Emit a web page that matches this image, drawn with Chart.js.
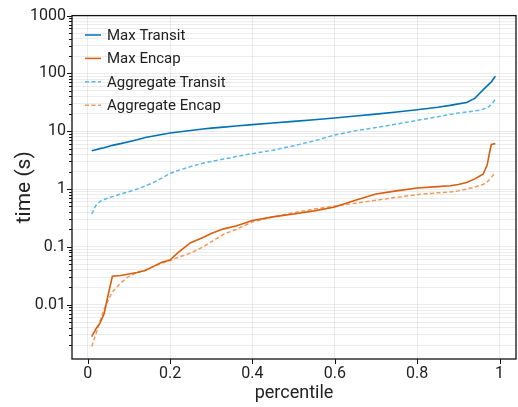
<!DOCTYPE html>
<html>
<head>
<meta charset="utf-8">
<script src="https://cdn.jsdelivr.net/npm/chart.js@4"></script>
<style>
  html, body { margin: 0; padding: 0; background: #fff; }
  canvas { display: block; }
</style>
</head>
<body>
<canvas id="myChart" width="518" height="407"></canvas>
<script>
// percentile values shared by every series
const percentiles = [0.01, 0.02, 0.03, 0.04, 0.05, 0.06, 0.08, 0.1, 0.12, 0.14, 0.16, 0.18, 0.2, 0.22, 0.25, 0.28, 0.3, 0.33, 0.36, 0.4,
    0.45, 0.5, 0.55, 0.6, 0.65, 0.7, 0.75, 0.8, 0.85, 0.88, 0.9, 0.92, 0.94, 0.95, 0.96, 0.97, 0.975, 0.98, 0.985, 0.99];

const maxTransit = [4.6, 4.8, 5.0, 5.2, 5.45, 5.7, 6.1, 6.6, 7.1, 7.8, 8.3, 8.8, 9.3, 9.7, 10.3, 10.9, 11.3, 11.8, 12.3, 13.0,
    13.9, 14.8, 15.8, 16.9, 18.3, 19.8, 21.5, 23.5, 26, 28, 29.7, 31.5, 37, 44, 52, 61, 66, 71, 80, 89];
const maxEncap = [0.0028, 0.0038, 0.0048, 0.007, 0.015, 0.031, 0.032, 0.034, 0.036, 0.039, 0.046, 0.054, 0.059, 0.08, 0.118, 0.145, 0.17, 0.205, 0.23, 0.285,
    0.33, 0.37, 0.42, 0.49, 0.64, 0.82, 0.93, 1.04, 1.1, 1.14, 1.2, 1.3, 1.5, 1.65, 1.8, 2.6, 4.0, 5.9, 6.0, 6.1];
const aggTransit = [0.37, 0.52, 0.61, 0.66, 0.70, 0.74, 0.82, 0.90, 1.0, 1.13, 1.3, 1.55, 1.86, 2.1, 2.45, 2.8, 3.0, 3.3, 3.65, 4.1,
    4.7, 5.6, 6.8, 8.6, 10.2, 11.6, 13.3, 15.4, 17.8, 19.5, 20.6, 21.5, 22.5, 23, 24, 25.8, 27, 29, 32, 36];
const aggEncap = [0.0019, 0.0031, 0.0052, 0.0085, 0.012, 0.0166, 0.0236, 0.031, 0.036, 0.04, 0.046, 0.052, 0.058, 0.066, 0.078, 0.1, 0.122, 0.165, 0.2, 0.27,
    0.33, 0.39, 0.45, 0.51, 0.57, 0.64, 0.72, 0.8, 0.86, 0.89, 0.93, 1.0, 1.08, 1.14, 1.2, 1.33, 1.45, 1.6, 1.75, 1.93];

const seriesNames = ['Max Transit', 'Max Encap', 'Aggregate Transit', 'Aggregate Encap'];
const xTickValues = [0, 0.2, 0.4, 0.6, 0.8, 1];
const xTickLabels = ['0', '0.2', '0.4', '0.6', '0.8', '1'];
const yTickValues = [0.01, 0.1, 1, 10, 100, 1000];
const yTickLabels = ['0.01', '0.1', '1', '10', '100', '1000'];

const FONT = 'Roboto';
const GRID = 'rgba(0,0,0,0.075)';

function points(values) {
    return percentiles.map((p, i) => ({ x: p, y: values[i] }));
}

// minor + major values for the log axis
function logTicks(min, max) {
    const out = [];
    for (let e = -4; e <= 3; e++) {
        for (let m = 1; m <= 9; m++) {
            const v = parseFloat((m * Math.pow(10, e)).toPrecision(6));
            if (v >= min && v <= max) out.push({ value: v, major: m === 1 });
        }
    }
    return out;
}

// frame, tick marks and in-plot legend
const decorations = {
    id: 'decorations',
    afterDraw(chart) {
        const ctx = chart.ctx;
        const a = chart.chartArea;
        const xs = chart.scales.x, ys = chart.scales.y;
        ctx.save();
        ctx.strokeStyle = '#111';
        ctx.lineWidth = 1.3;
        ctx.strokeRect(a.left, a.top, a.right - a.left, a.bottom - a.top);

        ctx.lineWidth = 1;
        ctx.beginPath();
        ys.ticks.forEach(t => {
            const y = Math.round(ys.getPixelForValue(t.value)) + 0.5;
            const len = t.major ? 5 : 3;
            ctx.moveTo(a.left - len, y);
            ctx.lineTo(a.left, y);
        });
        xs.ticks.forEach(t => {
            const x = Math.round(xs.getPixelForValue(t.value)) + 0.5;
            ctx.moveTo(x, a.bottom);
            ctx.lineTo(x, a.bottom + 5);
        });
        ctx.stroke();

        // legend
        ctx.font = '15px ' + FONT;
        ctx.textBaseline = 'middle';
        chart.data.datasets.forEach((ds, i) => {
            const y = 35 + i * 23.4;
            ctx.strokeStyle = ds.borderColor;
            ctx.lineWidth = 1.5;
            ctx.setLineDash(ds.borderDash || []);
            ctx.beginPath();
            ctx.moveTo(85, y);
            ctx.lineTo(101, y);
            ctx.stroke();
            ctx.setLineDash([]);
            ctx.fillStyle = '#222';
            ctx.fillText(ds.label, 107, y + 1);
        });
        ctx.restore();
    }
};

const ctx = document.getElementById('myChart').getContext('2d');
const chart = new Chart(ctx, {
    type: 'line',
    data: {
        datasets: [
            { label: seriesNames[0], data: points(maxTransit), borderColor: '#0072B2', borderWidth: 1.6 },
            { label: seriesNames[1], data: points(maxEncap), borderColor: '#D95F0E', borderWidth: 1.6 },
            { label: seriesNames[2], data: points(aggTransit), borderColor: '#5BB8EE', borderWidth: 1.5, borderDash: [4, 2.5] },
            { label: seriesNames[3], data: points(aggEncap), borderColor: '#F09A5C', borderWidth: 1.5, borderDash: [4, 2.5] }
        ]
    },
    options: {
        responsive: false,
        animation: false,
        devicePixelRatio: 1,
        layout: { padding: { top: 11, right: 2, left: 0, bottom: 0 } },
        elements: { point: { radius: 0 }, line: { tension: 0 } },
        plugins: { legend: { display: false }, tooltip: { enabled: false } },
        scales: {
            x: {
                type: 'linear',
                min: -0.038,
                max: 1.04,
                afterBuildTicks: (scale) => { scale.ticks = xTickValues.map(v => ({ value: v })); },
                afterFit: (scale) => { scale.height = 48; },
                grid: { color: GRID, drawTicks: false },
                border: { display: false },
                ticks: {
                    padding: 5,
                    color: '#222',
                    font: { family: FONT, size: 16 },
                    maxRotation: 0,
                    autoSkip: false,
                    callback: (v) => xTickLabels[xTickValues.indexOf(v)] ?? ''
                },
                title: { display: true, text: 'percentile', color: '#222', font: { family: FONT, size: 18 }, padding: { top: 0, bottom: 3 } }
            },
            y: {
                type: 'logarithmic',
                min: 0.00115,
                max: 1000,
                afterBuildTicks: (scale) => { scale.ticks = logTicks(0.00115, 1000); },
                afterFit: (scale) => { scale.width = 72; },
                grid: { color: GRID, drawTicks: false },
                border: { display: false },
                ticks: {
                    padding: 6,
                    color: '#222',
                    font: { family: FONT, size: 16 },
                    autoSkip: false,
                    callback: (v) => {
                        const i = yTickValues.findIndex(t => Math.abs(t - v) / t < 1e-6);
                        return i >= 0 ? yTickLabels[i] : '';
                    }
                },
                title: { display: true, text: 'time (s)', color: '#222', font: { family: FONT, size: 21 }, padding: { top: 12, bottom: 0 } }
            }
        }
    },
    plugins: [decorations]
});
</script>
</body>
</html>
